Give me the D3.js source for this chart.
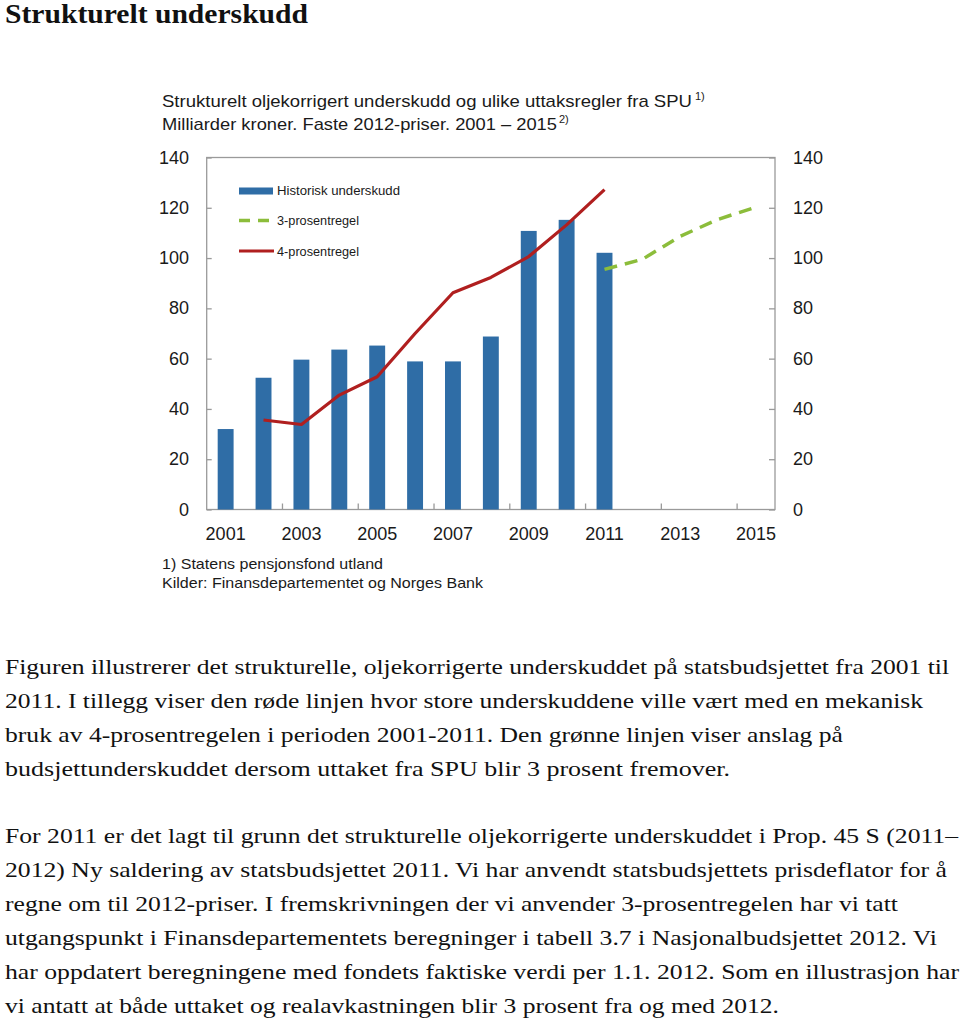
<!DOCTYPE html>
<html><head><meta charset="utf-8">
<script src="https://cdn.jsdelivr.net/npm/d3@7"></script>
<style>
html,body{margin:0;padding:0;background:#fff;}
svg{display:block;}
</style></head>
<body>
<script>
// ---- data ----
const years = ["2001","2002","2003","2004","2005","2006","2007","2008","2009","2010","2011","2012","2013","2014","2015"];
const histYears = ["2001","2002","2003","2004","2005","2006","2007","2008","2009","2010","2011"];
const historisk = [32, 52.4, 59.6, 63.6, 65.2, 58.9, 58.9, 68.8, 110.8, 115.2, 102.1];
const fireYears = ["2002","2003","2004","2005","2006","2007","2008","2009","2010","2011"];
const fireProsent = [35.6, 33.8, 45.5, 52.8, 70, 86.2, 92.3, 100.6, 113.2, 127.2];
const treYears = ["2011","2012","2013","2014","2015"];
const treProsent = [95.5, 99.5, 108.7, 115.4, 120.3];
const yTicks = [0, 20, 40, 60, 80, 100, 120, 140];
const xLabelYears = ["2001","2003","2005","2007","2009","2011","2013","2015"];
const legendLabels = ["Historisk underskudd", "3-prosentregel", "4-prosentregel"];

const title = "Strukturelt underskudd";
const subtitle1 = "Strukturelt oljekorrigert underskudd og ulike uttaksregler fra SPU";
const subtitle2 = "Milliarder kroner. Faste 2012-priser. 2001 \u2013 2015";
const notes = ["1) Statens pensjonsfond utland", "Kilder: Finansdepartementet og Norges Bank"];
const para1 = [
 "Figuren illustrerer det strukturelle, oljekorrigerte underskuddet på statsbudsjettet fra 2001 til",
 "2011. I tillegg viser den røde linjen hvor store underskuddene ville vært med en mekanisk",
 "bruk av 4-prosentregelen i perioden 2001-2011. Den grønne linjen viser anslag på",
 "budsjettunderskuddet dersom uttaket fra SPU blir 3 prosent fremover."
];
const para2 = [
 "For 2011 er det lagt til grunn det strukturelle oljekorrigerte underskuddet i Prop. 45 S (2011\u2013",
 "2012) Ny saldering av statsbudsjettet 2011. Vi har anvendt statsbudsjettets prisdeflator for å",
 "regne om til 2012-priser. I fremskrivningen der vi anvender 3-prosentregelen har vi tatt",
 "utgangspunkt i Finansdepartementets beregninger i tabell 3.7 i Nasjonalbudsjettet 2012. Vi",
 "har oppdatert beregningene med fondets faktiske verdi per 1.1. 2012. Som en illustrasjon har",
 "vi antatt at både uttaket og realavkastningen blir 3 prosent fra og med 2012."
];

// ---- layout ----
const W = 960, H = 1022;
const L = 206.7, R = 775, T = 157.5, B = 509.5;
const blue = "#2F6DA6", red = "#B01F1F", green = "#8CBD3B", frame = "#9a9a9a", ink = "#1a1a1a";

const svg = d3.select("body").append("svg").attr("width", W).attr("height", H);
svg.append("rect").attr("width", W).attr("height", H).attr("fill", "#fff");

const x = d3.scaleBand().domain(years).range([L, R]).padding(0);
const y = d3.scaleLinear().domain([0, 140]).range([B, T]);
const cx = d => x(d) + x.bandwidth() / 2;
const barW = x.bandwidth() * 0.42;

// title
svg.append("text").attr("x", 5).attr("y", 23)
  .attr("font-family", "Liberation Serif, serif").attr("font-weight", "bold")
  .attr("font-size", 27).attr("fill", "#111")
  .attr("textLength", 303).attr("lengthAdjust", "spacingAndGlyphs").text(title);

// subtitle
const sub = svg.append("g").attr("font-family", "Liberation Sans, Arial, sans-serif").attr("fill", ink);
sub.append("text").attr("x", 162).attr("y", 107).attr("font-size", 17)
  .attr("textLength", 530).attr("lengthAdjust", "spacingAndGlyphs").text(subtitle1);
sub.append("text").attr("x", 695).attr("y", 100).attr("font-size", 11).text("1)");
sub.append("text").attr("x", 162).attr("y", 130).attr("font-size", 17)
  .attr("textLength", 395).attr("lengthAdjust", "spacingAndGlyphs").text(subtitle2);
sub.append("text").attr("x", 559).attr("y", 123).attr("font-size", 11).text("2)");

// frame
svg.append("rect").attr("x", L).attr("y", T).attr("width", R - L).attr("height", B - T)
  .attr("fill", "none").attr("stroke", frame).attr("stroke-width", 1.3);

// axes
const axisFont = "Liberation Sans, Arial, sans-serif";
const yl = svg.append("g").attr("transform", `translate(${L},0)`)
  .call(d3.axisRight(y).tickValues(yTicks).tickSize(5).tickFormat(() => ""));
const yr = svg.append("g").attr("transform", `translate(${R},0)`)
  .call(d3.axisLeft(y).tickValues(yTicks).tickSize(6).tickFormat(() => ""));
[yl, yr].forEach(g => { g.select(".domain").remove(); g.selectAll("line").attr("stroke", frame).attr("stroke-width", 1.3); });

// y labels
svg.append("g").selectAll("text").data(yTicks).join("text")
  .attr("x", 189).attr("y", d => y(d) + 6).attr("text-anchor", "end")
  .attr("font-family", axisFont).attr("font-size", 18).attr("fill", ink).text(d => d);
svg.append("g").selectAll("text").data(yTicks).join("text")
  .attr("x", 793).attr("y", d => y(d) + 6).attr("text-anchor", "start")
  .attr("font-family", axisFont).attr("font-size", 18).attr("fill", ink).text(d => d);

// x ticks at boundaries every 2 years
const boundaryYears = years.filter((d, i) => i > 0 && i % 2 === 0);
svg.append("g").selectAll("line").data(boundaryYears).join("line")
  .attr("x1", d => x(d)).attr("x2", d => x(d)).attr("y1", B).attr("y2", B - 6)
  .attr("stroke", frame).attr("stroke-width", 1.3);

// x labels
svg.append("g").selectAll("text").data(xLabelYears).join("text")
  .attr("x", d => cx(d)).attr("y", 540).attr("text-anchor", "middle")
  .attr("font-family", axisFont).attr("font-size", 18).attr("fill", ink).text(d => d);

// bars
svg.append("g").selectAll("rect").data(histYears.map((d, i) => ({ year: d, v: historisk[i] }))).join("rect")
  .attr("x", d => cx(d.year) - barW / 2).attr("width", barW)
  .attr("y", d => y(d.v)).attr("height", d => B - y(d.v)).attr("fill", blue);

// lines
const line = d3.line().x(d => cx(d.year)).y(d => y(d.v));
svg.append("path").datum(fireYears.map((d, i) => ({ year: d, v: fireProsent[i] })))
  .attr("d", line).attr("fill", "none").attr("stroke", red).attr("stroke-width", 3.2)
  .attr("stroke-linejoin", "round");
svg.append("path").datum(treYears.map((d, i) => ({ year: d, v: treProsent[i] })))
  .attr("d", line).attr("fill", "none").attr("stroke", green).attr("stroke-width", 3.5)
  .attr("stroke-dasharray", "13,8");

// legend
const lg = svg.append("g");
lg.append("rect").attr("x", 239).attr("y", 187.5).attr("width", 34).attr("height", 7).attr("fill", blue);
lg.append("line").attr("x1", 239).attr("x2", 275).attr("y1", 220.5).attr("y2", 220.5)
  .attr("stroke", green).attr("stroke-width", 3.5).attr("stroke-dasharray", "11,8");
lg.append("line").attr("x1", 239).attr("x2", 274).attr("y1", 251).attr("y2", 251)
  .attr("stroke", red).attr("stroke-width", 3.2);
const legendY = [195, 225, 256];
const legendW = [123, 82, 82];
lg.selectAll("text").data(legendLabels).join("text")
  .attr("x", 277).attr("y", (d, i) => legendY[i])
  .attr("font-family", axisFont).attr("font-size", 13.5).attr("fill", ink)
  .attr("textLength", (d, i) => legendW[i]).attr("lengthAdjust", "spacingAndGlyphs").text(d => d);

// notes
const noteW = [221, 321];
svg.append("g").selectAll("text").data(notes).join("text")
  .attr("x", 162).attr("y", (d, i) => 569 + i * 19)
  .attr("font-family", axisFont).attr("font-size", 15).attr("fill", ink)
  .attr("textLength", (d, i) => noteW[i]).attr("lengthAdjust", "spacingAndGlyphs").text(d => d);

// paragraphs
const serif = "Liberation Serif, Times New Roman, serif";
const p1W = [944, 918, 838, 725];
const p2W = [953, 942, 893, 932, 954, 774];
svg.append("g").selectAll("text").data(para1).join("text")
  .attr("x", 5).attr("y", (d, i) => 674 + i * 34)
  .attr("font-family", serif).attr("font-size", 22).attr("fill", "#111")
  .attr("textLength", (d, i) => p1W[i]).attr("lengthAdjust", "spacingAndGlyphs").text(d => d);
svg.append("g").selectAll("text").data(para2).join("text")
  .attr("x", 5).attr("y", (d, i) => 843 + i * 34)
  .attr("font-family", serif).attr("font-size", 22).attr("fill", "#111")
  .attr("textLength", (d, i) => p2W[i]).attr("lengthAdjust", "spacingAndGlyphs").text(d => d);
</script>
</body></html>
